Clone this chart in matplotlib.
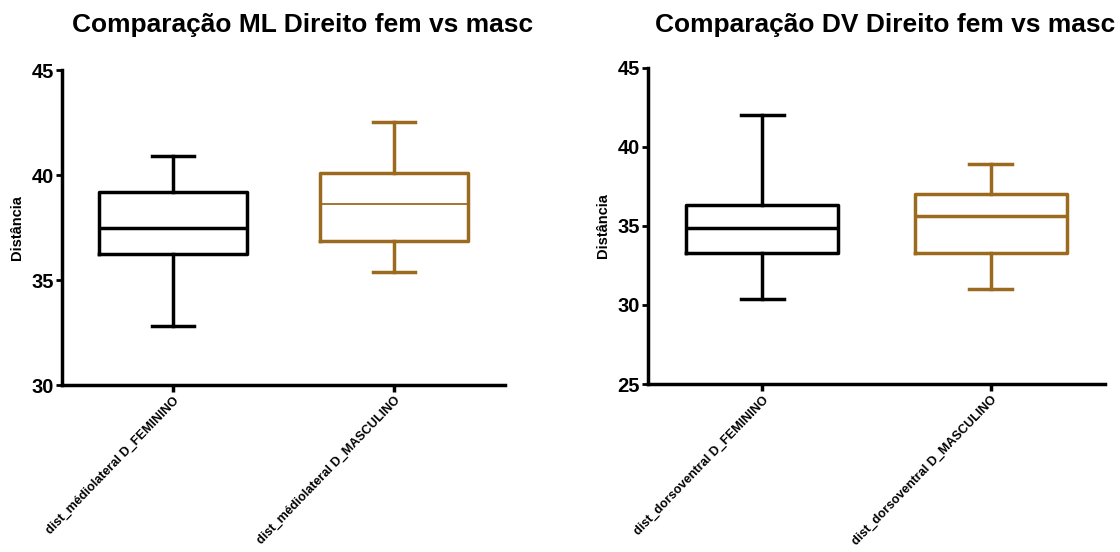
import matplotlib
matplotlib.use('Agg')
import matplotlib.pyplot as plt

plt.rcParams['font.family'] = ['Liberation Sans', 'DejaVu Sans']

# box stats: min, q1, median, q3, max
ml_labels = ['dist_médiolateral D_FEMININO', 'dist_médiolateral D_MASCULINO']
ml_fem = [32.8, 36.25, 37.5, 39.2, 40.9]
ml_masc = [35.4, 36.85, 38.6, 40.1, 42.55]

dv_labels = ['dist_dorsoventral D_FEMININO', 'dist_dorsoventral D_MASCULINO']
dv_fem = [30.35, 33.3, 34.9, 36.3, 42.0]
dv_masc = [31.0, 33.3, 35.6, 37.05, 38.9]

colors = ['black', '#9C6A1E']
median_lw = [[2.5, 2.5], [2.5, 1.3]]  # right masc median drawn thicker in the original


def make_stats(vals, label):
    return dict(whislo=vals[0], q1=vals[1], med=vals[2], q3=vals[3], whishi=vals[4], label=label, fliers=[])


def draw(ax, data, labels, ylim, yticks, title, title_x, med_lw):
    for i, (vals, lab) in enumerate(zip(data, labels)):
        c = colors[i]
        ax.bxp([make_stats(vals, lab)], positions=[i], widths=0.667, showfliers=False,
               boxprops=dict(color=c, linewidth=2.5),
               whiskerprops=dict(color=c, linewidth=2.5),
               capprops=dict(color=c, linewidth=2.5),
               medianprops=dict(color=c, linewidth=med_lw[i]),
               capwidths=0.19)
    ax.set_xlim(-0.5, 1.5)
    ax.set_ylim(*ylim)
    ax.set_yticks(yticks)
    ax.set_xticks([0, 1])
    ax.set_xticklabels(labels, rotation=46, ha='right', rotation_mode='anchor',
                       fontsize=9.1, fontweight='bold')
    for lbl in ax.get_yticklabels():
        lbl.set_fontweight('bold')
    ax.tick_params(axis='y', labelsize=14.5, width=2, length=4, pad=2)
    ax.tick_params(axis='x', width=2.5, length=5, pad=2)
    for s in ['top', 'right']:
        ax.spines[s].set_visible(False)
    for s in ['left', 'bottom']:
        ax.spines[s].set_linewidth(2.5)
    ax.set_ylabel('Distância', fontsize=10.5, fontweight='bold', labelpad=5)
    fig.text(title_x, 0.955, title, ha='center', va='center', fontsize=19, fontweight='bold')


fig = plt.figure(figsize=(11.2, 5.52), dpi=100)
ax1 = fig.add_axes([0.0554, 0.3025, 0.3956, 0.5705])
ax2 = fig.add_axes([0.5786, 0.3043, 0.408, 0.5727])

draw(ax1, [ml_fem, ml_masc], ml_labels, (30, 45), [30, 35, 40, 45],
     'Comparação ML Direito fem vs masc', 0.2705, median_lw[1])
draw(ax2, [dv_fem, dv_masc], dv_labels, (25, 45), [25, 30, 35, 40, 45],
     'Comparação DV Direito fem vs masc', 0.790, median_lw[0])

fig.savefig('out.png', dpi=100)
